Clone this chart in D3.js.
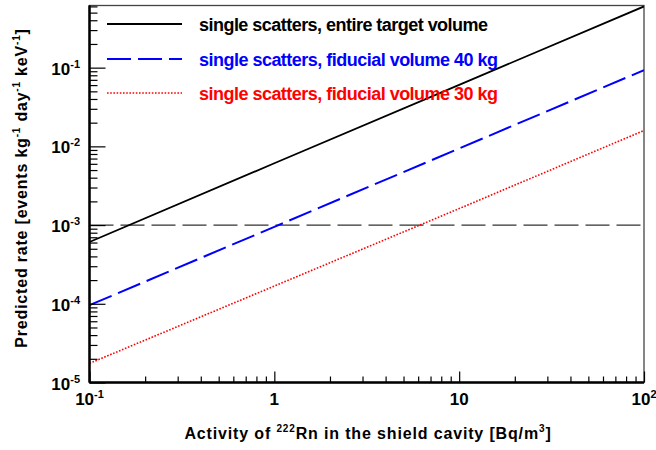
<!DOCTYPE html>
<html>
<head>
<meta charset="utf-8">
<script src="https://cdn.jsdelivr.net/npm/d3@7"></script>
<style>
  body { margin: 0; background: #fff; }
  svg { display: block; font-family: "Liberation Sans", Arial, sans-serif; font-weight: bold; }
</style>
</head>
<body>
<div id="chart"></div>
<script>
const activity = [0.1, 1, 10, 100];
const rateEntire = [6.1e-4, 6.1e-3, 6.05e-2, 0.6];
const rateFid40 = [9.6e-5, 9.5e-4, 9.4e-3, 0.093];
const rateFid30 = [1.75e-5, 1.68e-4, 1.62e-3, 0.0159];
const threshold = 1e-3;

const seriesNames = [
  "single scatters, entire target volume",
  "single scatters, fiducial volume 40 kg",
  "single scatters, fiducial volume 30 kg",
];
const seriesColors = ["#000000", "#0000ff", "#ff0000"];
const seriesDash = [null, "24,7", "1.6,1.6"];
const seriesWidth = [1.8, 2, 1.6];

const xDomain = [0.1, 100];
const yDomain = [1e-5, 0.616];
const xMajor = [0.1, 1, 10, 100];
const xMajorLabels = [["10", "-1"], ["1", ""], ["10", ""], ["10", "2"]];
const yMajor = [1e-5, 1e-4, 1e-3, 1e-2, 1e-1];
const yMajorLabels = [["10", "-5"], ["10", "-4"], ["10", "-3"], ["10", "-2"], ["10", "-1"]];

const width = 656;
const height = 450;
const margin = { left: 89.5, right: 12, top: 5.5, bottom: 67.5 };

const svg = d3
  .select("#chart")
  .append("svg")
  .attr("width", width)
  .attr("height", height);

const xScale = d3
  .scaleLog()
  .domain(xDomain)
  .range([margin.left, width - margin.right]);

const yScale = d3
  .scaleLog()
  .domain(yDomain)
  .range([height - margin.bottom, margin.top]);

// minor ticks: 2..9 in every decade
const minorTicks = (lo, hi) => {
  const out = [];
  for (let e = Math.floor(Math.log10(lo)); e <= Math.ceil(Math.log10(hi)); e++) {
    for (let m = 2; m <= 9; m++) {
      const v = m * Math.pow(10, e);
      if (v > lo && v < hi) out.push(v);
    }
  }
  return out;
};

const plotW = width - margin.left - margin.right;
const plotH = height - margin.top - margin.bottom;

svg
  .append("defs")
  .append("clipPath")
  .attr("id", "clip")
  .append("rect")
  .attr("x", margin.left)
  .attr("y", margin.top)
  .attr("width", plotW)
  .attr("height", plotH);

// frame (top and right)
svg
  .append("rect")
  .attr("x", margin.left)
  .attr("y", margin.top)
  .attr("width", plotW)
  .attr("height", plotH)
  .attr("fill", "none")
  .attr("stroke", "#444")
  .attr("stroke-width", 1.3);

// threshold line
svg
  .append("line")
  .attr("x1", xScale(xDomain[0]))
  .attr("x2", xScale(xDomain[1]))
  .attr("y1", yScale(threshold))
  .attr("y2", yScale(threshold))
  .attr("stroke", "#333")
  .attr("stroke-width", 1.3)
  .attr("stroke-dasharray", "24,7");

// series
const series = [rateEntire, rateFid40, rateFid30];
const line = d3
  .line()
  .x((d) => xScale(d[0]))
  .y((d) => yScale(d[1]));

const plot = svg.append("g").attr("clip-path", "url(#clip)");
series.forEach((vals, i) => {
  plot
    .append("path")
    .datum(activity.map((a, j) => [a, vals[j]]))
    .attr("fill", "none")
    .attr("stroke", seriesColors[i])
    .attr("stroke-width", seriesWidth[i])
    .attr("stroke-dasharray", seriesDash[i])
    .attr("d", line);
});

// axes with inward ticks
const yAxis = svg.append("g").attr("transform", `translate(${margin.left},0)`);
yAxis.call(d3.axisLeft(yScale).tickValues(yMajor).tickFormat("").tickSize(-16));
yAxis
  .append("g")
  .call(d3.axisLeft(yScale).tickValues(minorTicks(yDomain[0], yDomain[1])).tickFormat("").tickSize(-8));

const xAxis = svg.append("g").attr("transform", `translate(0,${height - margin.bottom})`);
xAxis.call(d3.axisBottom(xScale).tickValues(xMajor).tickFormat("").tickSize(-11));
xAxis
  .append("g")
  .call(d3.axisBottom(xScale).tickValues(minorTicks(xDomain[0], xDomain[1])).tickFormat("").tickSize(-6));

svg.selectAll(".domain").attr("stroke", "#000").attr("stroke-width", 2);
svg.selectAll(".tick line").attr("stroke", "#000").attr("stroke-width", 1.2);
yAxis.selectAll(".domain").attr("d", `M0,${margin.top}V${height - margin.bottom}`);
xAxis.selectAll(".domain").attr("d", `M${margin.left},0H${width - margin.right}`);

// tick labels with superscripts
const addPower = (g, base, exp) => {
  g.append("tspan").attr("font-size", 17).text(base);
  if (exp)
    g.append("tspan")
      .attr("font-size", 11)
      .attr("dy", -7)
      .text(exp);
};

xMajor.forEach((v, i) => {
  const t = svg
    .append("text")
    .attr("x", xScale(v))
    .attr("y", 405)
    .attr("text-anchor", "middle")
    .attr("fill", "#000");
  addPower(t, xMajorLabels[i][0], xMajorLabels[i][1]);
});

yMajor.forEach((v, i) => {
  const t = svg
    .append("text")
    .attr("x", 80)
    .attr("y", yScale(v) + 7)
    .attr("text-anchor", "end")
    .attr("fill", "#000");
  addPower(t, yMajorLabels[i][0], yMajorLabels[i][1]);
});

// axis titles
const xTitle = svg
  .append("text")
  .attr("x", 368)
  .attr("y", 439)
  .attr("text-anchor", "middle")
  .attr("font-size", 16)
  .attr("letter-spacing", 0.85)
  .attr("fill", "#000");
xTitle.append("tspan").text("Activity of ");
xTitle.append("tspan").attr("font-size", 10).attr("dy", -7).text("222");
xTitle.append("tspan").attr("dy", 7).text("Rn in the shield cavity [Bq/m");
xTitle.append("tspan").attr("font-size", 10).attr("dy", -7).text("3");
xTitle.append("tspan").attr("dy", 7).text("]");

const yTitle = svg
  .append("text")
  .attr("transform", `translate(27,${188}) rotate(-90)`)
  .attr("text-anchor", "middle")
  .attr("font-size", 16)
  .attr("letter-spacing", 0.8)
  .attr("fill", "#000");
yTitle.append("tspan").text("Predicted rate [events kg");
yTitle.append("tspan").attr("font-size", 10).attr("dy", -7).text("-1");
yTitle.append("tspan").attr("dy", 7).text(" day");
yTitle.append("tspan").attr("font-size", 10).attr("dy", -7).text("-1");
yTitle.append("tspan").attr("dy", 7).text(" keV");
yTitle.append("tspan").attr("font-size", 10).attr("dy", -7).text("-1");
yTitle.append("tspan").attr("dy", 7).text("]");

// legend
const legendY = [24, 59, 93];
const legendTextWidth = [289, 299, 299];
seriesNames.forEach((name, i) => {
  svg
    .append("line")
    .attr("x1", 107)
    .attr("x2", 182)
    .attr("y1", legendY[i])
    .attr("y2", legendY[i])
    .attr("stroke", seriesColors[i])
    .attr("stroke-width", seriesWidth[i])
    .attr("stroke-dasharray", seriesDash[i]);
  svg
    .append("text")
    .attr("x", 199)
    .attr("y", legendY[i] + 7)
    .attr("font-size", 18)
    .attr("textLength", legendTextWidth[i])
    .attr("lengthAdjust", "spacing")
    .attr("fill", seriesColors[i])
    .text(name);
});
</script>
</body>
</html>
